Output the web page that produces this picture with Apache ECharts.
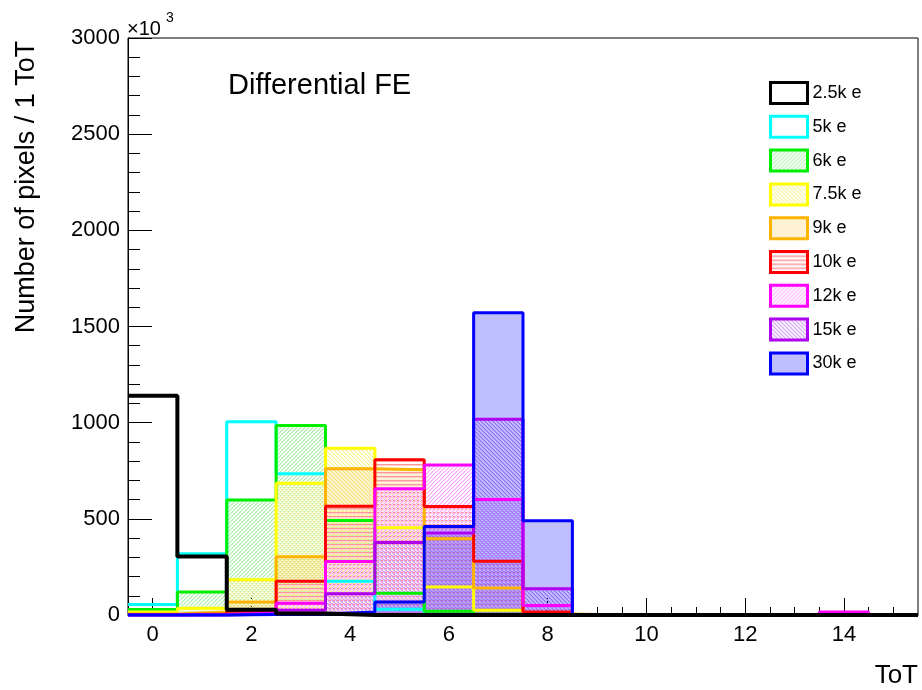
<!DOCTYPE html>
<html>
<head>
<meta charset="utf-8">
<script src="https://cdn.jsdelivr.net/npm/echarts@6/dist/echarts.min.js"></script>
<style>html,body{margin:0;padding:0;background:#fff}#c{width:922px;height:690px}</style>
</head>
<body>
<div id="c"></div>
<script>
// ---- data (bin contents in units of 10^3 pixels, ToT bins 0..15) ----
const binCenters = [0,1,2,3,4,5,6,7,8,9,10,11,12,13,14,15];
const seriesNames = ['2.5k e','5k e','6k e','7.5k e','9k e','10k e','12k e','15k e','30k e'];
const h2p5k = [1140, 304, 27, 8, 0, 0, 0, 0, 0, 0, 0, 0, 0, 0, 0, 0];
const h5k   = [55, 318, 1005, 734, 176, 30, 3, 0, 0, 0, 0, 0, 0, 0, 0, 0];
const h6k   = [28, 119, 598, 985, 491, 113, 20, 4, 0, 0, 0, 0, 0, 0, 0, 0];
const h7p5k = [15, 35, 183, 685, 867, 453, 145, 25, 0, 0, 0, 0, 0, 0, 0, 0];
const h9k   = [5, 15, 67, 303, 760, 755, 397, 140, 5, 0, 0, 0, 0, 0, 0, 0];
const h10k  = [2, 5, 20, 176, 566, 807, 564, 280, 15, 0, 0, 0, 0, 0, 0, 0];
const h12k  = [0, 2, 10, 61, 278, 656, 780, 601, 50, 0, 0, 0, 0, 0, 15, 0];
const h15k  = [0, 0, 5, 25, 110, 377, 426, 1018, 136, 0, 0, 0, 0, 0, 0, 0];
const h30k  = [0, 0, 3, 5, 15, 67, 460, 1572, 490, 0, 0, 0, 0, 0, 0, 0];
const xTickLabels = [0, 2, 4, 6, 8, 10, 12, 14];
const xMinorTicks = [0,0.5,1,1.5,2,2.5,3,3.5,4,4.5,5,5.5,6,6.5,7,7.5,8,8.5,9,9.5,10,10.5,11,11.5,12,12.5,13,13.5,14,14.5,15];
const yTickLabels = [0, 500, 1000, 1500, 2000, 2500, 3000];

// ---- styling ----
const FONT = '"Liberation Sans", Arial, Helvetica, sans-serif';
const colors = ['#000000','#00ffff','#00ee00','#ffff00','#ffb400','#ff0000','#ff00ff','#b000f0','#0000ff'];
const values = [h2p5k, h5k, h6k, h7p5k, h9k, h10k, h12k, h15k, h30k];

// soft 2-pixel hatch lines (main colour + lighter neighbour)
function hatch(dir, colA, colB, size) {
  const c = document.createElement('canvas');
  c.width = size; c.height = size;
  const g = c.getContext('2d');
  for (let i = 0; i < size; i++) {
    if (dir === '/') {
      g.fillStyle = colA; g.fillRect(i, size - 1 - i, 1, 1);
      g.fillStyle = colB; g.fillRect(i, (size - i) % size, 1, 1);
    } else if (dir === '\\') {
      g.fillStyle = colA; g.fillRect(i, i, 1, 1);
      g.fillStyle = colB; g.fillRect(i, (i + 1) % size, 1, 1);
    }
  }
  if (dir === '-') {
    g.fillStyle = colA; g.fillRect(0, 0, size, 1);
    g.fillStyle = colB; g.fillRect(0, 1, size, 1);
  }
  return { image: c, repeat: 'repeat' };
}
const fills = [
  null,
  null,
  hatch('/', 'rgb(170,240,170)', 'rgb(215,248,215)', 4),
  hatch('\\', 'rgb(242,242,140)', 'rgb(250,250,200)', 4),
  'rgba(255,190,60,0.22)',
  hatch('-', 'rgb(255,150,150)', 'rgb(255,205,205)', 4),
  hatch('/', 'rgb(255,165,255)', 'rgb(255,215,255)', 4),
  hatch('\\', 'rgb(205,150,245)', 'rgb(230,200,250)', 4),
  'rgba(0,0,255,0.25)'
];

function stepData(vals) {
  const d = vals.map((v, i) => [binCenters[i] - 0.5, v]);
  d.push([binCenters[binCenters.length - 1] + 0.5, vals[vals.length - 1]]);
  return d;
}

// draw order: 5k ... 30k, then 2.5k on top
const drawOrder = [1, 2, 3, 4, 5, 6, 7, 8, 0];
const series = drawOrder.map(i => {
  const s = {
    name: seriesNames[i],
    type: 'line',
    xAxisIndex: 0,
    step: 'end',
    symbol: 'none',
    showSymbol: false,
    clip: false,
    data: stepData(values[i]),
    lineStyle: { color: colors[i], width: i === 0 ? 4 : 3 },
    itemStyle: { color: colors[i] },
    emphasis: { disabled: true },
    silent: true
  };
  if (fills[i]) s.areaStyle = { color: fills[i], opacity: 1, origin: 'start' };
  return s;
});

const chart = echarts.init(document.getElementById('c'), null, { renderer: 'canvas' });
chart.setOption({
  animation: false,
  backgroundColor: '#ffffff',
  grid: { left: 128, right: 4, top: 38, bottom: 75, show: true, borderColor: '#000', borderWidth: 1, backgroundColor: 'transparent' },
  xAxis: [
    {
      type: 'value', min: -0.5, max: 15.5, position: 'bottom',
      axisLine: { show: true, onZero: false, lineStyle: { color: '#000', width: 1 } },
      axisTick: { show: true, inside: true, length: 17, customValues: xTickLabels, lineStyle: { color: '#000' } },
      axisLabel: { show: true, customValues: xTickLabels, margin: 9, fontSize: 22, color: '#000', fontFamily: FONT },
      splitLine: { show: false }
    },
    {
      type: 'value', min: -0.5, max: 15.5, position: 'bottom',
      axisLine: { show: false, onZero: false },
      axisTick: { show: true, inside: true, length: 8, customValues: xMinorTicks, lineStyle: { color: '#000' } },
      axisLabel: { show: false },
      splitLine: { show: false }
    }
  ],
  yAxis: {
    type: 'value', min: yTickLabels[0], max: yTickLabels[yTickLabels.length - 1], interval: 500,
    axisLine: { show: true, onZero: false, lineStyle: { color: '#000', width: 1 } },
    axisTick: { show: true, inside: true, length: 24, lineStyle: { color: '#000' } },
    minorTick: { show: true, splitNumber: 5, length: 12, lineStyle: { color: '#000' } },
    axisLabel: { margin: 8, fontSize: 22, color: '#000', fontFamily: FONT, formatter: v => String(v) },
    splitLine: { show: false }
  },
  legend: {
    orient: 'vertical', left: 769, top: 81, padding: 0,
    itemWidth: 37, itemHeight: 21, itemGap: 9.8,
    selectedMode: false,
    textStyle: { fontSize: 18, color: '#000', fontFamily: FONT },
    data: seriesNames.map((n, i) => ({
      name: n, icon: 'rect',
      itemStyle: { color: fills[i] || '#ffffff', borderColor: colors[i], borderWidth: 3, opacity: 1 }
    }))
  },
  graphic: [
    { type: 'text', x: 228, y: 86, silent: true,
      style: { text: 'Differential FE', font: '29px ' + FONT, fill: '#000', textAlign: 'left', textVerticalAlign: 'middle' } },
    { type: 'text', x: 27, y: 187, rotation: Math.PI / 2, silent: true,
      style: { text: 'Number of pixels / 1 ToT', font: '27px ' + FONT, fill: '#000', textAlign: 'center', textVerticalAlign: 'middle' } },
    { type: 'text', x: 918, y: 676, silent: true,
      style: { text: 'ToT', font: '26px ' + FONT, fill: '#000', textAlign: 'right', textVerticalAlign: 'middle' } },
    { type: 'text', x: 127, y: 29, silent: true,
      style: { text: '×10', font: '20px ' + FONT, fill: '#000', textAlign: 'left', textVerticalAlign: 'middle' } },
    { type: 'text', x: 166, y: 18, silent: true,
      style: { text: '3', font: '14px ' + FONT, fill: '#000', textAlign: 'left', textVerticalAlign: 'middle' } }
  ],
  series: series
});
</script>
</body>
</html>
